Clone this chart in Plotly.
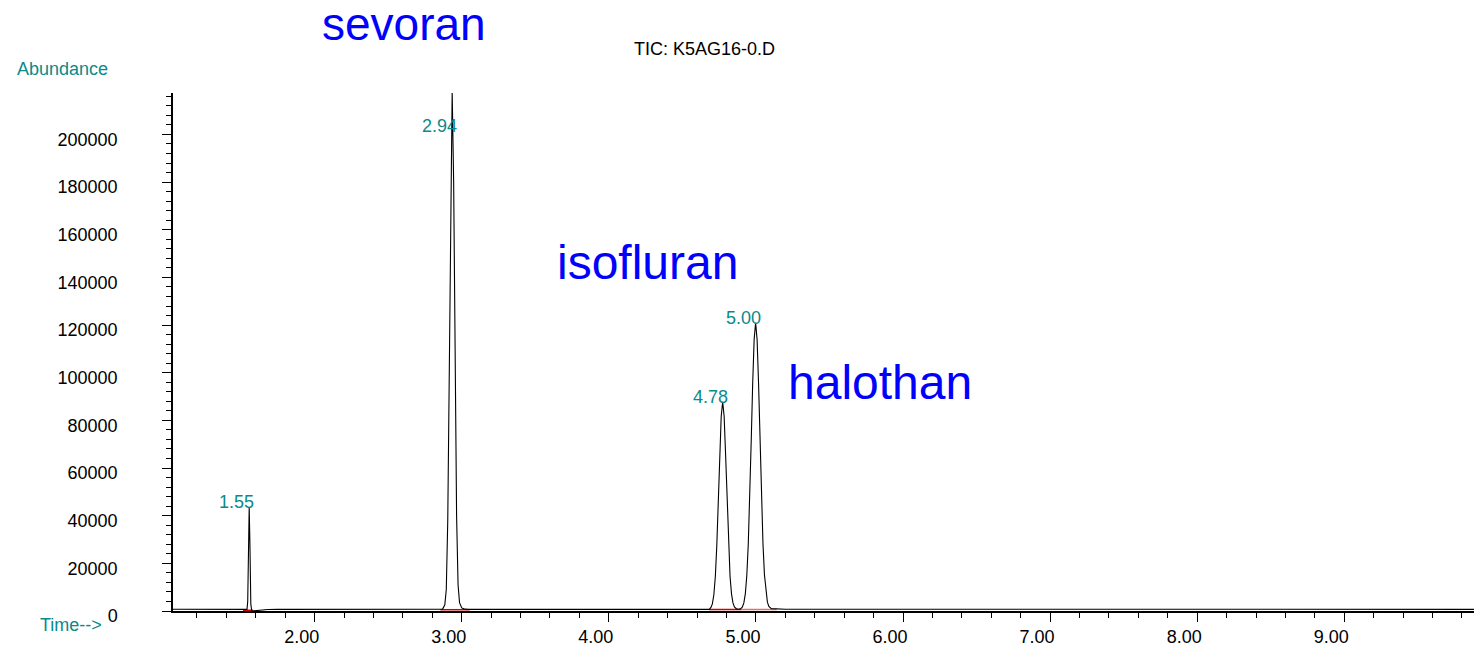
import plotly.graph_objects as go

# ---------------- data ----------------
# baseline before first peak
t_base0 = [1.037, 1.20, 1.35, 1.50, 1.540]
a_base0 = [720, 700, 730, 700, 700]

# peak at 1.55 (very narrow), followed by small dip
t_pk1 = [1.545, 1.550, 1.555, 1.560, 1.566, 1.572, 1.590, 1.620, 1.680, 1.750]
a_pk1 = [4000, 28000, 43500, 28000, 3000, 0, 150, 400, 600, 700]

# baseline to 2.94 peak
t_base1 = [1.90, 2.20, 2.50, 2.75, 2.835]
a_base1 = [720, 690, 720, 700, 700]

# peak at 2.94
t_pk2 = [2.870, 2.885, 2.895, 2.905, 2.915, 2.925, 2.935, 2.945, 2.955, 2.965,
         2.975, 2.985, 3.000, 3.015, 3.040]
a_pk2 = [800, 2600, 9000, 38000, 100000, 180000, 218000, 180000, 100000, 40000,
         11000, 3500, 1300, 900, 700]

# baseline to 4.78 peak
t_base2 = [3.30, 3.70, 4.10, 4.50, 4.684]
a_base2 = [700, 720, 690, 710, 700]

# peak at 4.78
t_pk3 = [4.694, 4.704, 4.714, 4.724, 4.734, 4.744, 4.754, 4.764, 4.774, 4.784,
         4.794, 4.804, 4.814, 4.824, 4.834, 4.844, 4.854, 4.868]
a_pk3 = [1500, 3000, 6800, 14400, 27400, 45500, 65500, 81600, 87800, 81600,
         65500, 45500, 27400, 14600, 7200, 3400, 1700, 900]

t_valley = [4.884]
a_valley = [750]

# peak at 5.00
t_pk4 = [4.898, 4.908, 4.918, 4.928, 4.938, 4.948, 4.958, 4.968, 4.978, 4.988,
         4.998, 5.008, 5.018, 5.028, 5.038, 5.048, 5.058, 5.068, 5.078, 5.088,
         5.105]
a_pk4 = [1000, 1700, 3400, 7200, 14800, 27900, 47100, 71200, 95500, 114000,
         121000, 114000, 95500, 71200, 47100, 28200, 15200, 7600, 3700, 1900, 1000]

# baseline to end
t_base3 = [5.20, 5.60, 6.00, 6.40, 6.70, 6.76, 6.82, 7.20, 7.60, 8.00, 8.40, 8.80, 9.20, 9.60, 9.882]
a_base3 = [720, 700, 710, 700, 720, 900, 720, 700, 690, 710, 700, 700, 690, 700, 700]

# integration baselines (red)
red_start = [1.513, 2.855, 4.681, 4.903]
red_end = [1.582, 3.056, 4.903, 5.141]
red_level = [300, 540, 650, 650]

# retention time labels
rt_labels = ["1.55", "2.94", "4.78", "5.00"]
rt_x = [1.555, 2.935, 4.774, 4.998]
rt_y = [43500, 201300, 87800, 121000]

# compound names
compound_names = ["sevoran", "isofluran", "halothan"]

x_ticks = [2, 3, 4, 5, 6, 7, 8, 9]
y_ticks = [0, 20000, 40000, 60000, 80000, 100000, 120000, 140000, 160000, 180000, 200000]

# ---------------- figure ----------------
t_all = t_base0 + t_pk1 + t_base1 + t_pk2 + t_base2 + t_pk3 + t_valley + t_pk4 + t_base3
a_all = a_base0 + a_pk1 + a_base1 + a_pk2 + a_base2 + a_pk3 + a_valley + a_pk4 + a_base3

FONT = "Liberation Sans, Arial, Helvetica, sans-serif"
TEAL = "#0a8a8a"

# plot area in pixels: left 173, right 1474, top 93, bottom 613.3
PL, PW, PB, PH = 173, 1301, 613.3, 520


def px(x):
    return (x - PL) / PW


def py(y):
    return (PB - y) / PH


fig = go.Figure()

for i in range(len(red_start)):
    fig.add_trace(go.Scatter(
        x=[red_start[i], red_end[i]], y=[red_level[i], red_level[i]],
        mode="lines", line=dict(color="#d00000" if i < 3 else "#e07070", width=1.5),
        hoverinfo="skip", showlegend=False))

fig.add_trace(go.Scatter(
    x=t_all, y=a_all, mode="lines",
    line=dict(color="black", width=1.1), showlegend=False))

annotations = []
for txt, x, y in zip(rt_labels, rt_x, rt_y):
    annotations.append(dict(
        x=x, y=y, xref="x", yref="y", text=txt, showarrow=False,
        xanchor="center", yanchor="bottom", xshift=-12.5, yshift=-7,
        font=dict(family=FONT, size=18, color=TEAL)))

name_pos = [(403.9, 24.5, 46), (647, 263.5, 48), (880, 383.5, 48)]
for txt, (x, y, s) in zip(compound_names, name_pos):
    annotations.append(dict(
        x=px(x), y=py(y), xref="paper", yref="paper", text=txt, showarrow=False,
        xanchor="center", yanchor="middle",
        font=dict(family=FONT, size=s, color="#0000ff")))

annotations.append(dict(
    x=px(704), y=py(48.7), xref="paper", yref="paper",
    text="TIC: K5AG16-0.D", showarrow=False, xanchor="center", yanchor="middle",
    font=dict(family=FONT, size=18, color="black")))
annotations.append(dict(
    x=px(15), y=py(69), xref="paper", yref="paper",
    text="Abundance", showarrow=False, xanchor="left", yanchor="middle",
    font=dict(family=FONT, size=18, color=TEAL)))
annotations.append(dict(
    x=px(37.5), y=py(627), xref="paper", yref="paper",
    text="Time-->", showarrow=False, xanchor="left", yanchor="middle",
    font=dict(family=FONT, size=18, color=TEAL)))

fig.update_layout(
    width=1474, height=647,
    margin=dict(l=173, r=0, t=93, b=34, pad=0),
    plot_bgcolor="white", paper_bgcolor="white",
    annotations=annotations,
    font=dict(family=FONT, size=18, color="black"),
)

fig.update_xaxes(
    range=[1.037, 9.882], showgrid=False, zeroline=False,
    showline=True, linecolor="black", linewidth=1.5,
    tickmode="array", tickvals=x_ticks, ticktext=[f"{v:.2f}" for v in x_ticks],
    ticks="outside", ticklen=9, tickwidth=1.2, tickcolor="black",
    ticklabelshift=-13, ticklabelstandoff=0,
    tickfont=dict(family=FONT, size=18, color="black"),
    minor=dict(dtick=0.2, tick0=0, ticks="outside", ticklen=5, tickwidth=1, tickcolor="black", showgrid=False),
)
fig.update_yaxes(
    range=[0, 217400], showgrid=False, zeroline=False,
    showline=True, linecolor="black", linewidth=1.5,
    tickmode="array", tickvals=y_ticks, ticktext=[str(v) for v in y_ticks],
    ticks="outside", ticklen=9, tickwidth=1.2, tickcolor="black",
    ticklabelshift=5, ticklabelstandoff=41,
    tickfont=dict(family=FONT, size=18, color="black"),
    minor=dict(dtick=4000, tick0=0, ticks="outside", ticklen=5, tickwidth=1, tickcolor="black", showgrid=False),
)

fig.write_html("out.html")
